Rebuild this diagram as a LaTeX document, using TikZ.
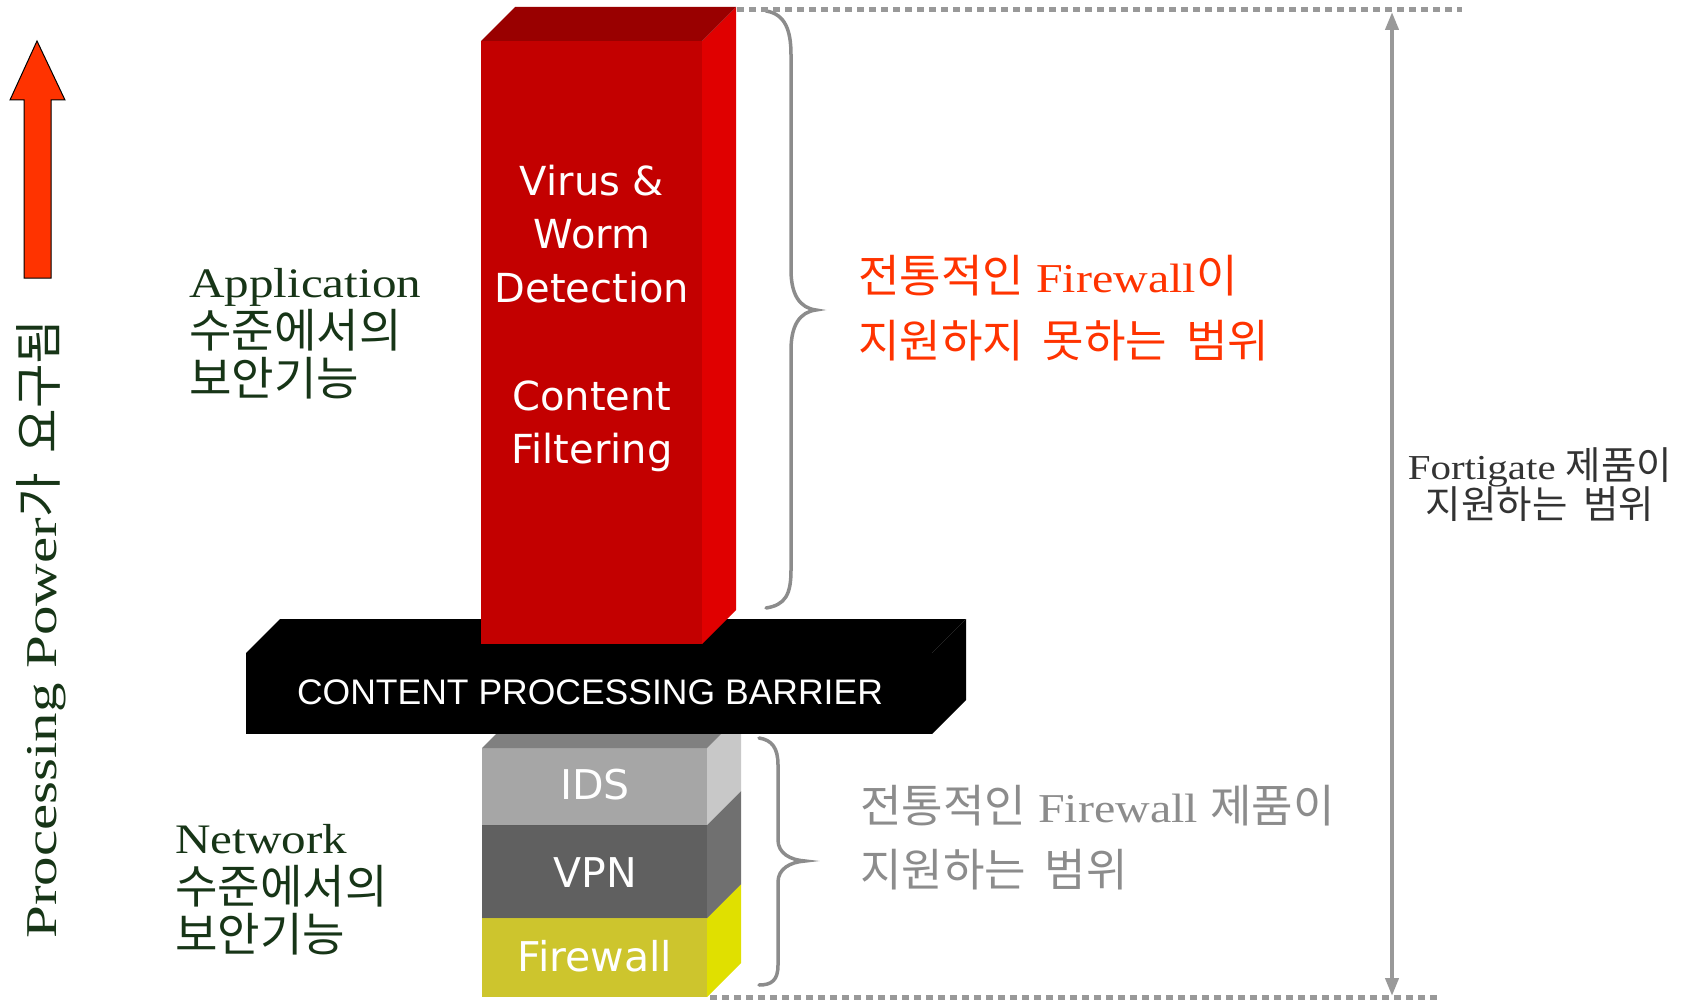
\documentclass[tikz,border=0pt]{standalone}
\usepackage{fontspec}
\usetikzlibrary{arrows.meta}
\newfontfamily\latserif{Liberation Serif}[FakeStretch=1.17]
\newfontfamily\latvert{Liberation Serif}[FakeStretch=1.34]
\newfontfamily\kr{Noto Sans CJK KR}[Scale=1.1, WordSpace=1.85]
\newfontfamily\boxfont{DejaVu Sans}
\newfontfamily\barfont{Liberation Sans}
\newcommand\K[1]{{\kr #1}}
\definecolor{lblgreen}{HTML}{173517}
\definecolor{hotred}{HTML}{FF3300}
\definecolor{softgray}{HTML}{8C8C8C}
\definecolor{linegray}{HTML}{999999}
% cuboid: x1 y1 x2 y2 depth front right top
\newcommand\cuboid[8]{%
  \fill[#6] (#1,#2) rectangle (#3,#4);
  \fill[#7] (#3,#2) -- ++(#5,-#5) -- ++(0,{#4-#2}) -- (#3,#4) -- cycle;
  \fill[#8] (#1,#2) -- ++(#5,-#5) -- ++({#3-#1},0) -- (#3,#2) -- cycle;
}
\begin{document}
\begin{tikzpicture}[x=1pt,y=-1pt,
  lbl/.style={inner sep=0pt, anchor=base west, text=lblgreen,
    font=\latserif\fontsize{42}{46}\selectfont},
  redlbl/.style={inner sep=0pt, anchor=base west, text=hotred,
    font=\latserif\fontsize{41}{46}\selectfont},
  graylbl/.style={inner sep=0pt, anchor=base west, text=softgray,
    font=\latserif\fontsize{41}{46}\selectfont},
  fortlbl/.style={inner sep=0pt, anchor=base, text=black!80,
    font=\latserif\fontsize{35}{40}\selectfont},
  boxtxt/.style={inner sep=0pt, anchor=base, text=white,
    font=\boxfont\fontsize{40}{44}\selectfont},
  brace/.style={draw=softgray, line width=3.5pt, line cap=round},
  dotline/.style={draw=linegray, line width=5pt, dash pattern=on 7pt off 5pt},
]
\useasboundingbox (0,0) rectangle (1688,1000);

% rising demand arrow
\fill[hotred, draw=black, line width=1pt]
  (24,278) -- (24,100) -- (10,100) -- (37,41) -- (65,100) -- (51,100) -- (51,278) -- cycle;
\node[inner sep=0pt, anchor=base, rotate=90, text=lblgreen,
  font=\latvert\fontsize{44}{48}\selectfont] (power) at (56,629)
  {Processing Power\K{가 요구됨}};

% network-level stack
\cuboid{482}{918}{707}{997}{34}{fill=yellow!78!black}{fill={rgb,255:red,224;green,224;blue,0}}{fill=yellow!60!black}
\cuboid{482}{825}{707}{918}{34}{fill={rgb,255:red,96;green,96;blue,96}}{fill={rgb,255:red,112;green,112;blue,112}}{fill={rgb,255:red,80;green,80;blue,80}}
\cuboid{482}{748}{707}{825}{34}{fill={rgb,255:red,166;green,166;blue,166}}{fill={rgb,255:red,200;green,200;blue,200}}{fill={rgb,255:red,128;green,128;blue,128}}

% processing barrier
\cuboid{246}{653}{932}{734}{34}{fill=black}{fill=black}{fill=black}

% application-level block
\cuboid{481}{41}{702}{644}{34}{fill={rgb,255:red,195;green,0;blue,0}}{fill={rgb,255:red,224;green,0;blue,0}}{fill={rgb,255:red,153;green,0;blue,0}}

% box labels
\node[boxtxt] (vw1) at (592,196) {Virus \&};
\node[boxtxt] (vw2) at (592,249) {Worm};
\node[boxtxt] (vw3) at (592,302) {Detection};
\node[boxtxt] (cf1) at (592,410) {Content};
\node[boxtxt] (cf2) at (592,463) {Filtering};
\node[boxtxt, font=\barfont\fontsize{35.5}{40}\selectfont] (bar) at (590,704) {CONTENT PROCESSING BARRIER};
\node[boxtxt, font=\boxfont\fontsize{41}{44}\selectfont] (ids) at (595,799) {IDS};
\node[boxtxt, font=\boxfont\fontsize{41}{44}\selectfont] (vpn) at (595,887) {VPN};
\node[boxtxt, font=\boxfont\fontsize{41}{44}\selectfont] (fw) at (595,971) {Firewall};

% side labels
\node[lbl] (app1) at (189,298) {Application};
\node[lbl] (app2) at (189,347) {\K{수준에서의}};
\node[lbl] (app3) at (189,395) {\K{보안기능}};
\node[lbl] (net1) at (175,853) {Network};
\node[lbl] (net2) at (175,903) {\K{수준에서의}};
\node[lbl] (net3) at (175,951) {\K{보안기능}};

% braces
\draw[brace] (766,11) .. controls (785,14) and (791,30) .. (791,55) -- (791,270)
  .. controls (791,295) and (800,308) .. (816,310)
  .. controls (800,312) and (791,325) .. (791,350) -- (791,570)
  .. controls (791,595) and (785,605) .. (766,608);
\draw[brace] (759,738) .. controls (772,740) and (778,748) .. (778,765) -- (778,840)
  .. controls (778,853) and (790,860) .. (805,861)
  .. controls (790,862) and (778,869) .. (778,882) -- (778,965)
  .. controls (778,980) and (772,985) .. (759,985);

\node[redlbl] (trad1) at (858,292) {\K{전통적인} Firewall\K{이}};
\node[redlbl] (trad2) at (858,357) {\K{지원하지 못하는 범위}};
\node[graylbl] (prod1) at (860,822) {\K{전통적인} Firewall \K{제품이}};
\node[graylbl] (prod2) at (860,886) {\K{지원하는 범위}};

% overall range
\coordinate (topL) at (737,10);
\coordinate (topR) at (1462,10);
\coordinate (botL) at (710,997);
\coordinate (botR) at (1437,997);
\coordinate (arrT) at (1392,12);
\coordinate (arrB) at (1392,996);
\draw[dotline] (topL) -- (topR);
\draw[dotline] (botL) -- (botR);
\draw[draw=linegray, line width=4pt, {Triangle[length=18pt,width=13pt]}-{Triangle[length=18pt,width=13pt]}] (arrT) -- (arrB);
\node[fortlbl] (fort1) at (1540,479) {Fortigate \K{제품이}};
\node[fortlbl] (fort2) at (1540,518) {\K{지원하는 범위}};
\end{tikzpicture}
\end{document}
